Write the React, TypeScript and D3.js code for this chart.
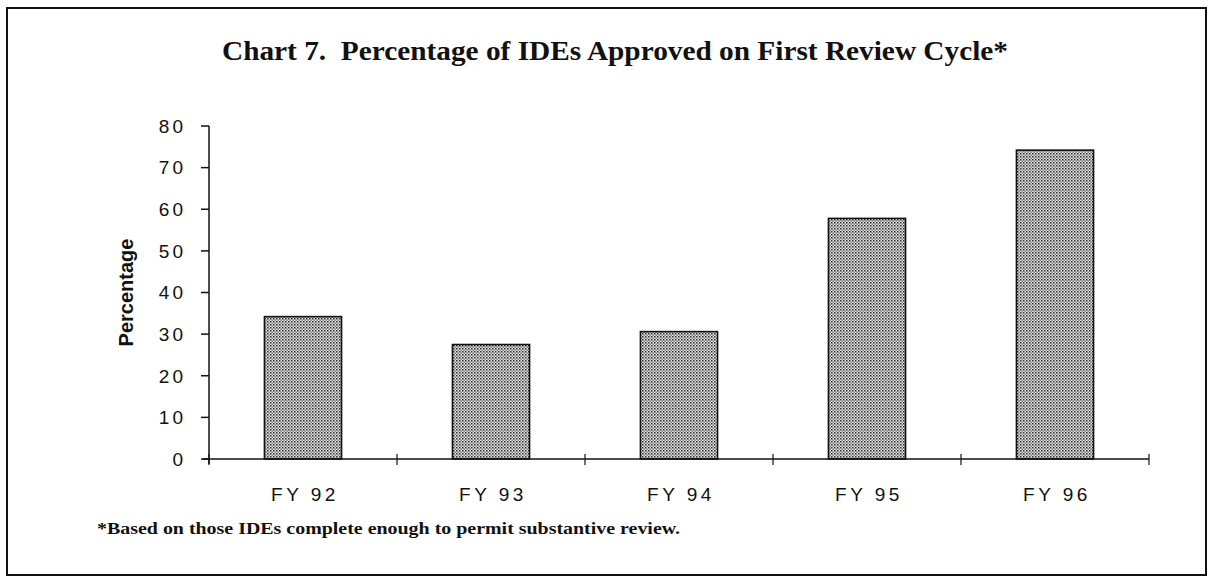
import React from 'react';
import * as d3 from 'd3';

const categories = ['FY 92', 'FY 93', 'FY 94', 'FY 95', 'FY 96'];
const percentages = [34.2, 27.5, 30.6, 57.8, 74.2];
const yTicks = [0, 10, 20, 30, 40, 50, 60, 70, 80];

const title = 'Chart 7.  Percentage of IDEs Approved on First Review Cycle*';
const yLabel = 'Percentage';
const footnote = '*Based on those IDEs complete enough to permit substantive review.';

const width = 1212;
const height = 580;
const margin = { left: 209, right: 63, top: 126, bottom: 121 };

const App = () => {
  const x = d3.scaleBand<string>()
    .domain(categories)
    .range([margin.left, width - margin.right])
    .paddingInner(0.59)
    .paddingOuter(0.295);

  const y = d3.scaleLinear()
    .domain([0, 80])
    .range([height - margin.bottom, margin.top]);

  const step = x.step();
  const x0 = margin.left;
  const x1 = width - margin.right;
  const y0 = y(0);
  const boundaries = d3.range(categories.length + 1).map(i => x0 + i * step);

  const sans = 'Liberation Sans, Arial, sans-serif';
  const serif = 'Liberation Serif, Times New Roman, serif';

  return (
    <svg width={width} height={height} style={{ position: 'absolute', left: 0, top: 0, background: '#fff' }}>
      <defs>
        <pattern id="dots" width="3" height="3" patternUnits="userSpaceOnUse">
          <rect width="3" height="3" fill="#e6e6e6" />
          <rect x="0" y="0" width="1.5" height="1.5" fill="#2a2a2a" />
          <rect x="1.5" y="1.5" width="1.3" height="1.3" fill="#555" />
        </pattern>
      </defs>

      {/* frame */}
      <rect x={7} y={8} width={1199} height={567} fill="none" stroke="#111" strokeWidth={2} />

      <text x={222} y={60} textLength={786} lengthAdjust="spacingAndGlyphs" fontFamily={serif} fontWeight="bold" fontSize={28} fill="#111" xmlSpace="preserve">
        {title}
      </text>

      {/* bars */}
      {categories.map((c, i) => (
        <rect
          key={c}
          x={x(c)}
          y={y(percentages[i])}
          width={x.bandwidth()}
          height={y0 - y(percentages[i])}
          fill="url(#dots)"
          stroke="#111"
          strokeWidth={1.6}
        />
      ))}

      {/* y axis */}
      <line x1={x0} x2={x0} y1={y(80)} y2={y0 + 5} stroke="#111" strokeWidth={1.5} />
      {yTicks.map(t => (
        <g key={t}>
          <line x1={x0 - 8} x2={x0} y1={y(t)} y2={y(t)} stroke="#111" strokeWidth={1.5} />
          <text x={186} y={y(t)} dy="0.36em" textAnchor="end" fontFamily={sans} fontSize={19} letterSpacing={3} fill="#111">
            {t}
          </text>
        </g>
      ))}

      {/* x axis */}
      <line x1={x0 - 6} x2={x1} y1={y0} y2={y0} stroke="#111" strokeWidth={1.5} />
      {boundaries.map((b, i) => (
        <line key={i} x1={b} x2={b} y1={y0 - 5} y2={y0 + 6} stroke="#111" strokeWidth={1.2} />
      ))}
      {categories.map(c => (
        <text key={c} x={(x(c) ?? 0) + x.bandwidth() / 2 + 2} y={y0 + 42} textAnchor="middle" fontFamily={sans} fontSize={19} letterSpacing={3.5} fill="#111">
          {c}
        </text>
      ))}

      <text
        transform={`translate(133, ${(y(80) + y0) / 2}) rotate(-90)`}
        textAnchor="middle"
        fontFamily={sans}
        fontWeight="bold"
        fontSize={20}
        fill="#111"
      >
        {yLabel}
      </text>

      <text x={97} y={534} textLength={583} lengthAdjust="spacingAndGlyphs" fontFamily={serif} fontWeight="bold" fontSize={16} fill="#111">
        {footnote}
      </text>
    </svg>
  );
};

export default App;
